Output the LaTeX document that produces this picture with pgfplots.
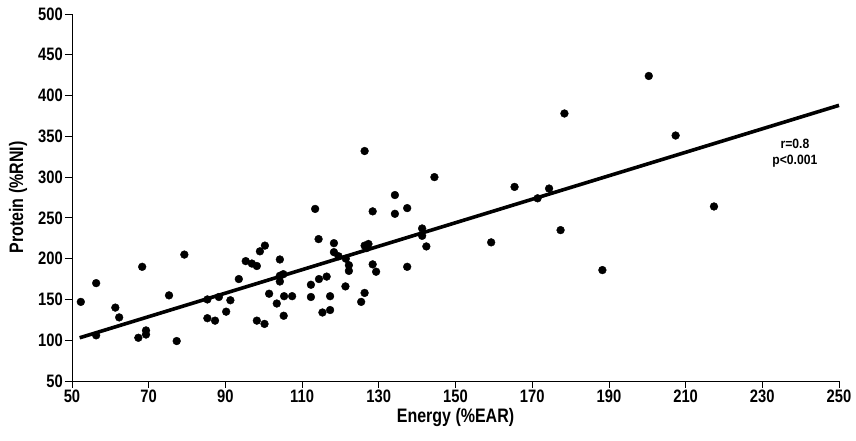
\documentclass[border=0pt]{standalone}
\usepackage{fontspec}
\setmainfont{Liberation Sans}
\newfontfamily\narrowtick[FakeStretch=0.82]{Liberation Sans}
\newfontfamily\narrowlabel[FakeStretch=0.82]{Liberation Sans}
\newfontfamily\notefont[FakeStretch=0.9]{Liberation Sans}
\usepackage{pgfplots}
\pgfplotsset{compat=1.18}

\pgfplotstableread{
x y
52.3 147
56.3 170
56.3 106
61.3 140
62.3 128
67.3 103
68.3 190
69.3 112
69.3 107
75.3 155
77.3 99
79.3 205
85.3 150
85.3 127
87.3 124
88.3 153
90.2 135
91.3 149
93.5 175
95.3 197
96.9 194
98.2 191
99.0 209
100.3 216
98.2 124
100.2 120
101.4 157
103.4 145
104.2 199
104.2 179
105.1 181
104.2 172
105.3 154
107.4 154
105.2 130
112.3 168
112.3 153
113.4 261
114.3 224
114.4 175
116.4 178
115.3 134
117.3 154
117.3 137
118.3 219
118.3 208
119.5 203
121.4 200
121.3 166
122.2 192
122.2 185
125.4 147
126.3 158
126.3 332
126.3 216
127.3 218
126.8 213
128.4 258
128.4 193
129.3 184
134.2 278
134.2 255
137.4 262
137.4 190
141.3 237
141.3 228
142.4 215
144.5 300
159.3 220
165.4 288
171.4 274
174.4 286
177.4 235
178.4 378
188.3 186
200.4 424
207.4 351
217.4 264
}\scatterdata

\begin{document}
\begin{tikzpicture}
\begin{axis}[
    at={(0,0)}, anchor=south west,
    scale only axis,
    width=767pt, height=367pt,
    xmin=50, xmax=250, ymin=50, ymax=500,
    xtick={50,70,...,250},
    ytick={50,100,...,500},
    axis x line*=bottom,
    axis y line*=left,
    axis line style={black, line width=0.8pt},
    tick align=outside,
    major tick length=7pt,
    tick style={black, line width=0.8pt},
    /pgf/number format/assume math mode=true,
    ticklabel style={font=\narrowtick\bfseries\fontsize{18}{20}\selectfont, inner sep=2pt},
    label style={font=\narrowlabel\bfseries\fontsize{19.5}{22}\selectfont},
    xlabel={Energy (\%EAR)},
    ylabel={Protein (\%RNI)},
    xlabel style={at={(axis description cs:0.5,0)}, anchor=center, yshift=-37pt},
    ylabel style={at={(axis description cs:0,0.5)}, anchor=center, yshift=54pt},
    clip=false,
]
\addplot[only marks, mark=*, mark size=3.9pt, black] table[x=x, y=y] {\scatterdata};
\addplot[black, line width=3.6pt, no marks] coordinates {(52,103) (250,388)};
\node[align=center, font=\notefont\bfseries\fontsize{13.5}{16}\selectfont, inner sep=0pt]
    at (axis cs:238.5,329.5) {r=0.8\\p<0.001};
\end{axis}
\pgfresetboundingbox
\path[use as bounding box] (-72pt,-60pt) rectangle (784pt,381pt);
\end{tikzpicture}
\end{document}
